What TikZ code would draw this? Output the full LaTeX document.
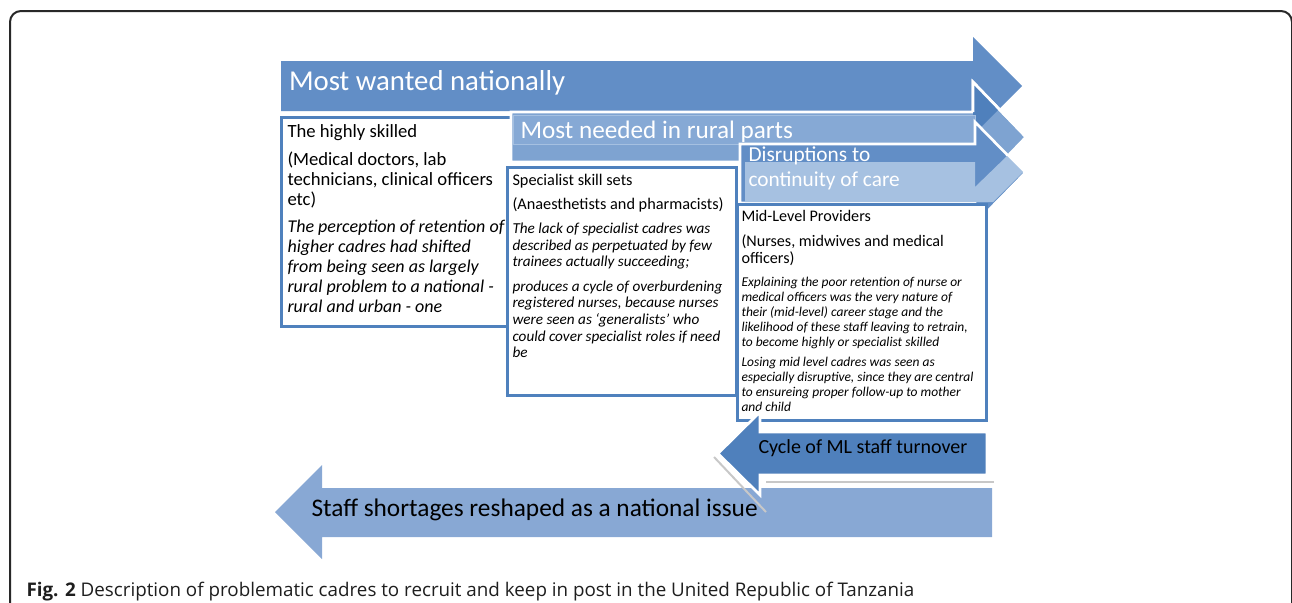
\documentclass[tikz,border=0pt]{standalone}
\usepackage{fontspec}
\setmainfont{Carlito}
\newfontfamily\captionfont{Open Sans}

\tikzset{every picture/.style={line width=0.75pt}}
\tikzset{
  wantedfill/.style={fill={rgb, 255:red, 98; green, 142; blue, 198 }},
  neededfill/.style={fill={rgb, 255:red, 126; green, 163; blue, 209 }},
  innerband/.style={fill={rgb, 255:red, 134; green, 169; blue, 213 }, draw={rgb, 255:red, 165; green, 192; blue, 225 }, line width=0.75pt},
  paleband/.style={fill={rgb, 255:red, 166; green, 193; blue, 225 }},
  deepfill/.style={fill={rgb, 255:red, 79; green, 128; blue, 188 }},
  stafffill/.style={fill={rgb, 255:red, 136; green, 168; blue, 212 }},
  whiteedge/.style={draw=white, line width=2pt, line join=miter},
  cadrebox/.style={draw={rgb, 255:red, 79; green, 129; blue, 189 }, line width=2.25pt, fill=white},
  ghostline/.style={draw={rgb, 255:red, 200; green, 200; blue, 200 }, line width=1.5pt},
  boxtext/.style={anchor=north west, inner sep=0pt, align=left},
}

\begin{document}
\begin{tikzpicture}[x=0.75pt,y=0.75pt,yscale=-1,xscale=1]
	\useasboundingbox (0,0) rectangle (1292,603);

	%Shape: Rounded Rect [id:dp1] 
	\draw [color={rgb, 255:red, 40; green, 40; blue, 40 }, line width=1.5pt, rounded corners=8.25pt] (10,11) rectangle (1292,650) ;

	%Shape: Box [id:dp2] 
	\draw [cadrebox] (512,117) -- (281,117) -- (281,326) -- (512,326) ;

	%Shape: Right Arrow [id:dp3] 
	\fill [wantedfill] (281,61) -- (973,61) -- (973,37) -- (1022,86) -- (973,135) -- (973,111) -- (281,111) -- cycle ;
	%Shape: Right Arrow [id:dp4] 
	\draw [neededfill, whiteedge] (511,112) -- (973,112) -- (973,82) -- (1026,137) -- (973,192) -- (973,162) -- (511,162) -- cycle ;
	\begin{scope}
	\clip (511,112) -- (973,112) -- (973,82) -- (1026,137) -- (973,192) -- (973,162) -- (511,162) -- cycle ;
	\fill [deepfill] (973,37) -- (1022,86) -- (973,135) -- cycle ;
	\end{scope}
	\draw [whiteedge] (973,112) -- (973,82) -- (1026,137) ;
	\draw [innerband] (513,115) rectangle (975,144) ;
	%Shape: Right Arrow [id:dp5] 
	\draw [wantedfill, whiteedge] (740,144) -- (975,144) -- (975,122) -- (1025,173) -- (975,224) -- (975,203) -- (740,203) -- cycle ;
	\fill [paleband] (745,162) -- (975,162) -- (975,187) -- (1007,156) -- (1023,172) -- (993,202) -- (745,202) -- cycle ;

	%Shape: Box [id:dp6] 
	\draw [cadrebox] (507,167) rectangle (736,395) ;
	%Shape: Box [id:dp7] 
	\draw [cadrebox] (737,204) rectangle (986,420) ;

	%Shape: Left Arrow [id:dp8] 
	\fill [stafffill] (992,488) -- (322,488) -- (322,465) -- (275,512) -- (322,559) -- (322,537) -- (992,537) -- cycle ;
	%Straight Lines [id:dp9] 
	\draw [ghostline] (714,457) -- (766,512) ;
	\draw [ghostline] (766,482) -- (994,482) ;

	% Text Node
	\draw (288.5,90) node [anchor=base west, inner sep=0pt, text=white, font=\fontsize{21.6}{25}\selectfont] (wanted) {Most wanted nationally};
	% Text Node
	\draw (520,138.3) node [anchor=base west, inner sep=0pt, text=white, font=\fontsize{18.9}{22}\selectfont] (needed) {Most needed in rural parts};
	% Text Node
	\draw (748,146.6) node [boxtext, text=white, font=\fontsize{16}{18.2}\selectfont] (disrupt) {Disruptions to\\continuity of care};

	% Text Node
	\draw (287,137.7) node [anchor=base west, inner sep=0pt, font=\fontsize{14}{15}\selectfont] (skilled) {The highly skilled};
	% Text Node
	\draw (287,151.4) node [boxtext, font=\fontsize{14}{15}\selectfont] (skilledlist) {(Medical doctors, lab\\technicians, clinical officers\\etc)};
	% Text Node
	\draw (287,219.7) node [boxtext, font=\fontsize{13.5}{15}\selectfont\itshape] (skillednote) {The perception of retention of\\higher cadres had shifted\\from being seen as largely\\rural problem to a national -\\rural and urban - one};

	% Text Node
	\draw (512,185) node [anchor=base west, inner sep=0pt, font=\fontsize{12.2}{15}\selectfont] (special) {Specialist skill sets};
	% Text Node
	\draw (512,209.3) node [anchor=base west, inner sep=0pt, font=\fontsize{12.2}{15}\selectfont] (speciallist) {(Anaesthetists and pharmacists)};
	% Text Node
	\draw (512,222.4) node [boxtext, font=\fontsize{11.4}{12.5}\selectfont\itshape] (specialnote) {The lack of specialist cadres was\\described as perpetuated by few\\trainees actually succeeding;};
	% Text Node
	\draw (512,280.1) node [boxtext, font=\fontsize{11.4}{12.5}\selectfont\itshape] (specialcycle) {produces a cycle of overburdening\\registered nurses, because nurses\\were seen as ‘generalists’ who\\could cover specialist roles if need\\be};

	% Text Node
	\draw (741,221) node [anchor=base west, inner sep=0pt, font=\fontsize{12.1}{13}\selectfont] (midlevel) {Mid-Level Providers};
	% Text Node
	\draw (741,234.1) node [boxtext, font=\fontsize{12.1}{13}\selectfont] (midlist) {(Nurses, midwives and medical\\officers)};
	% Text Node
	\draw (741,276.3) node [boxtext, font=\fontsize{10.1}{11.25}\selectfont\itshape] (midnote) {Explaining the poor retention of nurse or\\medical officers was the very nature of\\their (mid-level) career stage and the\\likelihood of these staff leaving to retrain,\\to become highly or specialist skilled};
	% Text Node
	\draw (741,357) node [boxtext, font=\fontsize{10.1}{11.25}\selectfont\itshape] (midloss) {Losing mid level cadres was seen as\\especially disruptive, since they are central\\to ensureing proper follow-up to mother\\and child};

	%Shape: Left Arrow [id:dp10] 
	\draw [deepfill, whiteedge] (987,432) -- (760,432) -- (760,412) -- (718,453.5) -- (760,495) -- (760,475) -- (987,475) -- cycle ;
	% Text Node
	\draw (758,453.3) node [anchor=base west, inner sep=0pt, font=\fontsize{15}{17}\selectfont] (turnover) {Cycle of ML staff turnover};
	% Text Node
	\draw (311,516.7) node [anchor=base west, inner sep=0pt, font=\fontsize{19}{21}\selectfont] (shortage) {Staff shortages reshaped as a national issue};

	% Text Node
	\draw (26,596) node [anchor=base west, inner sep=0pt, text={rgb, 255:red, 30; green, 30; blue, 30 }, font=\captionfont\fontsize{14.1}{17}\selectfont] (caption) {\textbf{Fig. 2} Description of problematic cadres to recruit and keep in post in the United Republic of Tanzania};

\end{tikzpicture}
\end{document}
